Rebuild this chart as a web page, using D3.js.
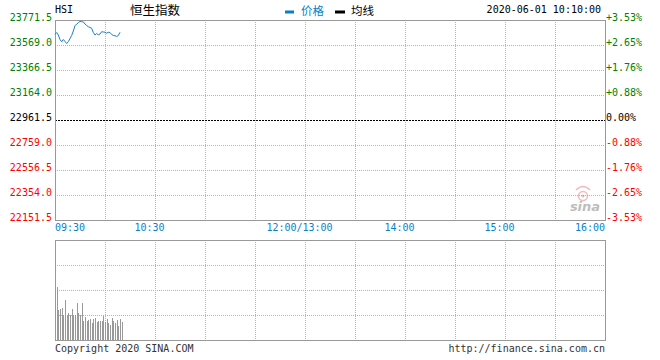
<!DOCTYPE html>
<html><head><meta charset="utf-8">
<script src="https://cdn.jsdelivr.net/npm/d3@7"></script>
<style>
html,body{margin:0;padding:0;background:#fff;}
svg{display:block;}
text{font-family:"DejaVu Sans Mono","Liberation Mono",monospace;font-size:10px;}
.cjk{font-family:"Noto Sans CJK SC",sans-serif;}
</style></head><body>
<svg id="c" width="660" height="360"></svg>
<script>
// ---- data ----
const symbol = "HSI";
const title = "恒生指数";
const stamp = "2020-06-01 10:10:00";
const prevClose = 22961.5;
const priceTicks = [22151.5, 22354.0, 22556.5, 22759.0, 22961.5, 23164.0, 23366.5, 23569.0, 23771.5];
const timeLabels = ["09:30", "10:30", "12:00/13:00", "14:00", "15:00", "16:00"];
const timeLabelMinutes = [0, 60, 150, 210, 270, 330];
const gridMinutes = [30, 60, 90, 120, 150, 180, 210, 240, 270, 300];
// minute-by-minute price from 09:30
const price = [23655.7, 23670.0, 23650.0, 23613.5, 23595.7, 23613.5, 23597.5, 23581.0, 23596.0, 23621.5,
  23646.0, 23682.5, 23725.5, 23739.0, 23749.0, 23761.0, 23757.7, 23756.0, 23739.0, 23727.0,
  23717.0, 23710.7, 23704.3, 23670.0, 23650.0, 23662.0, 23651.5, 23658.0, 23676.7, 23674.3,
  23672.7, 23664.5, 23672.0, 23670.0, 23654.0, 23646.0, 23644.5, 23637.8, 23646.0, 23672.0];
// minute volumes (relative units)
const volume = [53.3, 30.0, 30.7, 31.7, 25.0, 40.0, 25.0, 26.7, 25.0, 30.7,
  25.0, 25.0, 37.3, 26.7, 25.0, 37.3, 19.0, 22.7, 19.0, 20.0,
  20.7, 17.3, 20.7, 21.7, 18.3, 19.3, 19.3, 19.3, 24.0, 18.3,
  20.7, 16.7, 15.0, 21.7, 19.3, 16.7, 20.0, 14.0, 20.7, 18.3];
const volumeMax = 100;
const volumeGrid = [25, 50, 75];

// ---- layout ----
const svg = d3.select("#c");
const L = 55, R = 605, T = 20, B = 220, VT = 240, VB = 340;
const x = d3.scaleLinear().domain([0, 330]).range([L, R]);
const y = d3.scaleLinear().domain([priceTicks[0], priceTicks[priceTicks.length - 1]]).range([B, T]);
const yv = d3.scaleLinear().domain([0, volumeMax]).range([VB, VT]);
const GRID = "#b4b4b4", BORDER = "#999999";
const GREEN = "#008000", RED = "#ff0000", BLUE = "#0a7fc8", LINE = "#1480cf";
const px = v => Math.round(v) + 0.5;

// ---- main grid ----
const g = svg.append("g").attr("shape-rendering", "crispEdges");
g.selectAll(".vg").data(gridMinutes).join("line")
  .attr("x1", d => px(x(d))).attr("x2", d => px(x(d))).attr("y1", T).attr("y2", B)
  .attr("stroke", GRID).attr("stroke-dasharray", "1,1");
g.selectAll(".hg").data(priceTicks.slice(1, -1)).join("line")
  .attr("x1", L).attr("x2", R).attr("y1", d => px(y(d))).attr("y2", d => px(y(d)))
  .attr("stroke", d => d === prevClose ? "#000" : GRID)
  .attr("stroke-dasharray", d => d === prevClose ? "2,1" : "1,1");
g.append("rect").attr("x", px(L)).attr("y", px(T)).attr("width", R - L).attr("height", B - T)
  .attr("fill", "none").attr("stroke", BORDER);

// ---- volume grid ----
g.selectAll(".vvg").data(gridMinutes).join("line")
  .attr("x1", d => px(x(d))).attr("x2", d => px(x(d))).attr("y1", VT).attr("y2", VB)
  .attr("stroke", GRID).attr("stroke-dasharray", "1,1");
g.selectAll(".vhg").data(volumeGrid).join("line")
  .attr("x1", L).attr("x2", R).attr("y1", d => px(yv(d))).attr("y2", d => px(yv(d)))
  .attr("stroke", GRID).attr("stroke-dasharray", "1,1");
g.append("rect").attr("x", px(L)).attr("y", px(VT)).attr("width", R - L).attr("height", VB - VT)
  .attr("fill", "none").attr("stroke", BORDER);

// ---- volume bars ----
g.selectAll(".vb").data(volume).join("rect")
  .attr("x", (d, i) => Math.round(x(i + 1)))
  .attr("y", d => Math.round(yv(d)))
  .attr("width", 1)
  .attr("height", d => VB - Math.round(yv(d)))
  .attr("fill", "#999");

// ---- price line ----
svg.append("path").datum(price)
  .attr("d", d3.line().x((d, i) => x(i)).y(d => y(d)))
  .attr("fill", "none").attr("stroke", LINE).attr("stroke-width", 1);

// ---- left axis labels ----
const colorFor = v => v > prevClose ? GREEN : (v < prevClose ? RED : "#000");
svg.selectAll(".yl").data(priceTicks).join("text")
  .attr("x", 52).attr("y", d => Math.round(y(d)) + 0.5)
  .attr("text-anchor", "end").attr("fill", colorFor)
  .text(d => d3.format(".1f")(d));
// ---- right percent labels ----
svg.selectAll(".yr").data(priceTicks).join("text")
  .attr("x", 606).attr("y", d => Math.round(y(d)) + 0.5)
  .attr("text-anchor", "start").attr("fill", colorFor)
  .text(d => {
    const p = (d - prevClose) / prevClose * 100;
    const s = Math.abs(p).toFixed(2) + "%";
    return p > 0.001 ? "+" + s : (p < -0.001 ? "-" + s : "0.00%");
  });

// ---- time labels ----
svg.selectAll(".tl").data(timeLabels).join("text")
  .attr("x", (d, i) => i === 0 ? L : (i === timeLabels.length - 1 ? R : x(timeLabelMinutes[i]) - 5.5))
  .attr("y", 231)
  .attr("text-anchor", (d, i) => i === 0 ? "start" : (i === timeLabels.length - 1 ? "end" : "middle"))
  .attr("fill", BLUE).text(d => d);

// ---- header ----
svg.append("text").attr("x", 55).attr("y", 13).attr("fill", "#000").text(symbol);
svg.append("text").attr("class", "cjk").attr("x", 130).attr("y", 15).attr("fill", "#000")
  .style("font-size", "12.5px").text(title);
svg.append("rect").attr("x", 285).attr("y", 10.5).attr("width", 9).attr("height", 3).attr("fill", BLUE);
svg.append("text").attr("class", "cjk").attr("x", 301).attr("y", 14.5).attr("fill", BLUE)
  .style("font-size", "11.5px").text("价格");
svg.append("rect").attr("x", 335).attr("y", 10.5).attr("width", 10).attr("height", 3).attr("fill", "#000");
svg.append("text").attr("class", "cjk").attr("x", 351).attr("y", 14.5).attr("fill", "#000")
  .style("font-size", "11.5px").text("均线");
svg.append("text").attr("x", 601).attr("y", 13).attr("text-anchor", "end").attr("fill", "#000").text(stamp);

// ---- footer ----
svg.append("text").attr("x", 55).attr("y", 352).attr("fill", "#333").text("Copyright 2020 SINA.COM");
svg.append("text").attr("x", 605).attr("y", 352).attr("text-anchor", "end").attr("fill", "#333").text("http://finance.sina.com.cn");

// ---- sina watermark ----
const wm = svg.append("g").attr("opacity", 0.55);
wm.append("circle").attr("cx", 583).attr("cy", 196).attr("r", 4.5).attr("fill", "none").attr("stroke", "#f08080").attr("stroke-width", 1.5);
wm.append("circle").attr("cx", 583).attr("cy", 196).attr("r", 1.5).attr("fill", "#999");
wm.append("path").attr("d", "M576,190 Q583,183 590,190").attr("fill", "none").attr("stroke", "#f08080").attr("stroke-width", 1.5);
wm.append("text").attr("x", 585).attr("y", 211).attr("text-anchor", "middle")
  .style("font-family", "DejaVu Sans").style("font-size", "13px").style("font-style", "italic").style("font-weight", "bold")
  .attr("fill", "#888").text("sina");
</script>
</body></html>
